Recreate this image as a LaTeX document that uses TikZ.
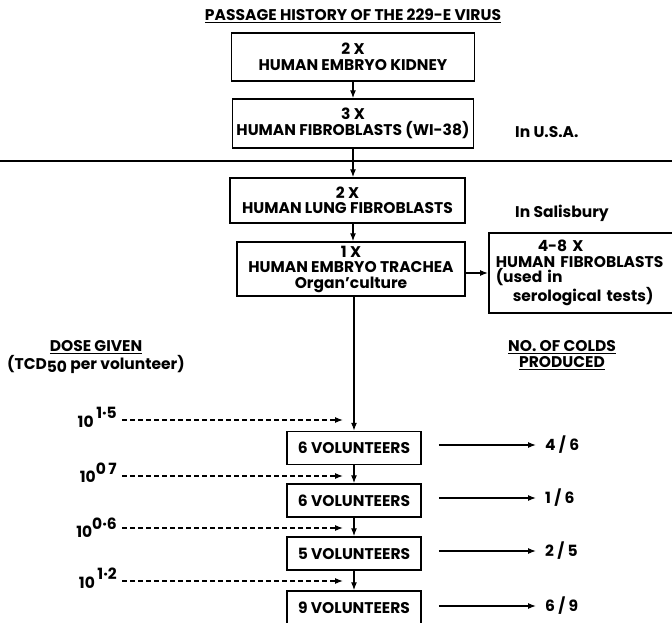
\documentclass[tikz,border=0pt]{standalone}
\usepackage{fontspec}
\setmainfont{Poppins}
\usetikzlibrary{arrows.meta,positioning}

\begin{document}
\begin{tikzpicture}[x=1pt, y=-1pt,
    passbox/.style={draw, line width=1.5pt, align=center, inner sep=0pt,
      font=\fontsize{15.5}{15.5}\selectfont\bfseries},
    volbox/.style={draw, line width=1.5pt, minimum width=134pt, minimum height=33pt,
      inner sep=0pt, font=\fontsize{15.5}{15.5}\selectfont\bfseries},
    lbl/.style={inner sep=0pt, font=\fontsize{15.5}{16}\selectfont\bfseries},
    flow/.style={line width=1.2pt, -{Latex[length=8pt,width=6pt]}},
    dosed/.style={line width=1.2pt, dash pattern=on 5pt off 3pt, -{Latex[length=8pt,width=6pt]}}]
  \useasboundingbox (0,0) rectangle (672,622);
  \clip (0,0) rectangle (672,622);

  % title
  \node[lbl] (title) at (353,16) {\underline{PASSAGE HISTORY OF THE 229-E VIRUS}};

  % passage boxes
  \node[passbox, minimum width=243pt, minimum height=48pt] (kidney) at (353,57) {2 X\\HUMAN EMBRYO KIDNEY};
  \node[passbox, minimum width=241pt, minimum height=49pt] (wi) at (353,123.5) {3 X\\HUMAN FIBROBLASTS (WI-38)};
  \node[passbox, minimum width=235pt, minimum height=45pt] (lung) at (347.5,200.5) {2 X\\HUMAN LUNG FIBROBLASTS};
  \node[passbox, minimum width=228pt, minimum height=54pt] (trachea) at (351,269) {1 X\\HUMAN EMBRYO TRACHEA\\Organ'culture};
  \node[passbox, anchor=west, align=left, text width=198pt, inner xsep=7pt, minimum height=80pt] (sero) at (488,273)
    {\hspace*{42pt}4-8 X\\HUMAN FIBROBLASTS\\(used in\\\hspace*{17pt}serological tests)};

  \node[lbl, anchor=west] (usa) at (515,132) {In U.S.A.};
  \node[lbl, anchor=west] (salis) at (515,213) {In Salisbury};
  \draw[line width=1.5pt] (0,161) -- (672,161);

  \draw[flow] (kidney.south) -- (kidney.south |- wi.north);
  \draw[flow] (wi.south) -- (wi.south |- lung.north);
  \draw[flow] (lung.south -| wi.south) -- (trachea.north -| wi.south);
  \draw[flow] (trachea.east |- sero.west) -- (sero.west);

  % column heads
  \node[lbl, align=center] (dosehead) at (96,357) {\underline{DOSE GIVEN}\\(TCD\raisebox{-3pt}{50} per volunteer)};
  \node[lbl, align=center] (coldhead) at (562,355) {\underline{NO. OF COLDS}\\\underline{PRODUCED}};

  % volunteers
  \node[volbox] (v1) at (354,448) {6 VOLUNTEERS};
  \node[volbox] (v2) at (354,500.5) {6 VOLUNTEERS};
  \node[volbox] (v3) at (354,553.5) {5 VOLUNTEERS};
  \node[volbox] (v4) at (354,607.5) {9 VOLUNTEERS};

  \draw[flow] (trachea.south -| v1.north) -- (v1.north);
  \draw[flow] (v1) -- (v2);
  \draw[flow] (v2) -- (v3);
  \draw[flow] (v3) -- (v4);

  % doses
  \coordinate (t1) at (343,420);
  \coordinate (t2) at (343,476);
  \coordinate (t3) at (343,528);
  \coordinate (t4) at (343,581);
  \node[lbl, anchor=base east] (d1) at (117,427) {10\,\raisebox{9pt}{1·5}};
  \node[lbl, anchor=base east] (d2) at (117,482) {10\raisebox{8pt}{0\,7}};
  \node[lbl, anchor=base east] (d3) at (117,537) {10\raisebox{8pt}{0·6}};
  \node[lbl, anchor=base east] (d4) at (117,588) {10\,\raisebox{9pt}{1·2}};
  \draw[dosed] (d1.east |- t1) ++(5,0) -- (t1);
  \draw[dosed] (d2.east |- t2) ++(5,0) -- (t2);
  \draw[dosed] (d3.east |- t3) ++(5,0) -- (t3);
  \draw[dosed] (d4.east |- t4) ++(5,0) -- (t4);

  % colds
  \node[lbl, anchor=west, inner xsep=9pt] (c1) at (536,445) {4 / 6};
  \node[lbl, anchor=west, inner xsep=9pt] (c2) at (536,498) {1 / 6};
  \node[lbl, anchor=west, inner xsep=9pt] (c3) at (536,551) {2 / 5};
  \node[lbl, anchor=west, inner xsep=9pt] (c4) at (536,606) {6 / 9};
  \draw[flow] (v1.east |- c1.west) ++(17,0) -- (c1.west);
  \draw[flow] (v2.east |- c2.west) ++(17,0) -- (c2.west);
  \draw[flow] (v3.east |- c3.west) ++(17,0) -- (c3.west);
  \draw[flow] (v4.east |- c4.west) ++(17,0) -- (c4.west);
\end{tikzpicture}
\end{document}
